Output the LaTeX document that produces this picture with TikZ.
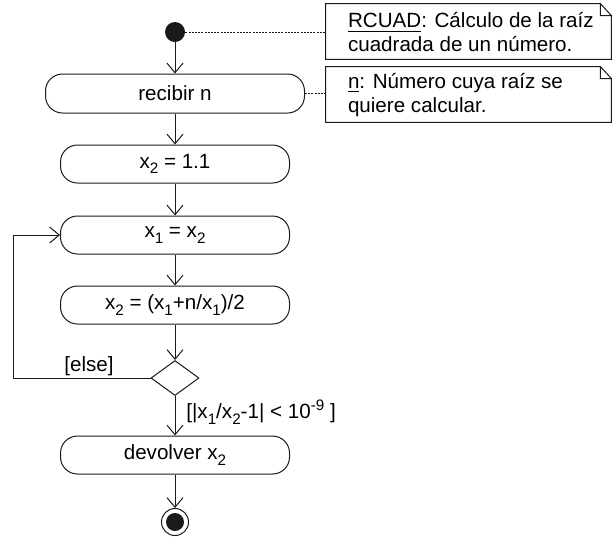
\documentclass[tikz,border=0pt]{standalone}
\usepackage{fontspec}
\setmainfont{Liberation Sans}
\usetikzlibrary{arrows.meta,positioning,shapes.geometric}
\definecolor{ink}{HTML}{1A1A1A}
\newcommand\bajo[1]{\raisebox{-.5ex}{\fontsize{7.6}{8}\selectfont #1}}
\newcommand\alto[1]{\raisebox{.75ex}{\fontsize{7.6}{8}\selectfont #1}}
\tikzset{
  act/.style={draw=ink,line width=.5pt,rounded corners=8.5pt,minimum width=114.5pt,minimum height=19pt,inner sep=0pt,font=\fontsize{10.3}{12}\selectfont},
  choice/.style={diamond,draw=ink,line width=.5pt,minimum width=24pt,minimum height=17.5pt,inner sep=0pt},
  inicio/.style={circle,fill=ink,minimum size=10pt,inner sep=0pt},
  fin/.style={circle,draw=ink,line width=.5pt,minimum size=13.5pt,inner sep=0pt,
    path picture={\fill[ink] (path picture bounding box.center) circle (4.5pt);}},
  notebox/.style={minimum width=142.5pt,minimum height=27.5pt,inner sep=0pt},
  notetext/.style={align=left,inner sep=0pt,font=\fontsize{10.3}{12}\selectfont},
  notepen/.style={line width=.5pt,color=ink},
  lbl/.style={inner sep=0pt,font=\fontsize{10.3}{12}\selectfont},
  flow/.style={-{Straight Barb[length=4.8pt,width=8pt]},line width=.5pt,color=ink},
  anchorline/.style={dash pattern=on 1pt off .6pt,line width=.5pt,color=ink}
}
\begin{document}
\begin{tikzpicture}[x=.5pt,y=-.5pt]
  \useasboundingbox (0,0) rectangle (613,538);
  % actividades
  \node[inicio] (ini) at (175,32) {};
  \node[act,minimum width=129.5pt,minimum height=19.5pt] (recibir) at (175,93.5) {recibir n};
  \node[act] (x2ini) at (175,164) {x\bajo{2} = 1.1};
  \node[act] (x1x2) at (175,235) {x\bajo{1} = x\bajo{2}};
  \node[act] (nuevo) at (175,305) {x\bajo{2} = (x\bajo{1}+n/x\bajo{1})/2};
  \node[choice] (cond) at (175,378) {};
  \node[act] (devolver) at (175,455) {devolver x\bajo{2}};
  \node[fin] (final) at (175,522) {};
  % notas
  \node[notebox] (nota1) at (468.5,31.5) {};
  \node[notebox] (nota2) at (468.5,94.5) {};
  \draw[notepen] (nota1.north west) -- ([xshift=-5.5pt]nota1.north east) -- ([yshift=-6pt]nota1.north east)
    -- (nota1.south east) -- (nota1.south west) -- cycle
    ([xshift=-5.5pt]nota1.north east) |- ([yshift=-6pt]nota1.north east);
  \draw[notepen] (nota2.north west) -- ([xshift=-5.5pt]nota2.north east) -- ([yshift=-6pt]nota2.north east)
    -- (nota2.south east) -- (nota2.south west) -- cycle
    ([xshift=-5.5pt]nota2.north east) |- ([yshift=-6pt]nota2.north east);
  \node[notetext,anchor=west] (rcuad) at ([xshift=11pt,yshift=-.5pt]nota1.west)
    {\underline{RCUAD}: Cálculo de la raíz\\cuadrada de un número.};
  \node[notetext,anchor=west] (param) at ([xshift=11pt,yshift=-.5pt]nota2.west)
    {\underline{n}: Número cuya raíz se\\quiere calcular.};
  \draw[anchorline] (ini.east) -- (ini.east -| nota1.west);
  \draw[anchorline] (recibir.east) -- (recibir.east -| nota2.west);
  % flujo
  \draw[flow] (ini) -- (recibir);
  \draw[flow] (recibir) -- (x2ini);
  \draw[flow] (x2ini) -- (x1x2);
  \draw[flow] (x1x2) -- (nuevo);
  \draw[flow] (nuevo) -- (cond);
  \draw[flow] (cond) -- (devolver);
  \draw[flow] (devolver) -- (final);
  \coordinate (lazo) at (13,378);
  \draw[flow] (cond.west) -- (lazo) |- (x1x2.west);
  \node[lbl] (otro) at (89,366) {[else]};
  \node[lbl,anchor=west] (guarda) at (186,412) {[|x\bajo{1}/x\bajo{2}-1| < 10\alto{-9} ]};
\end{tikzpicture}
\end{document}
